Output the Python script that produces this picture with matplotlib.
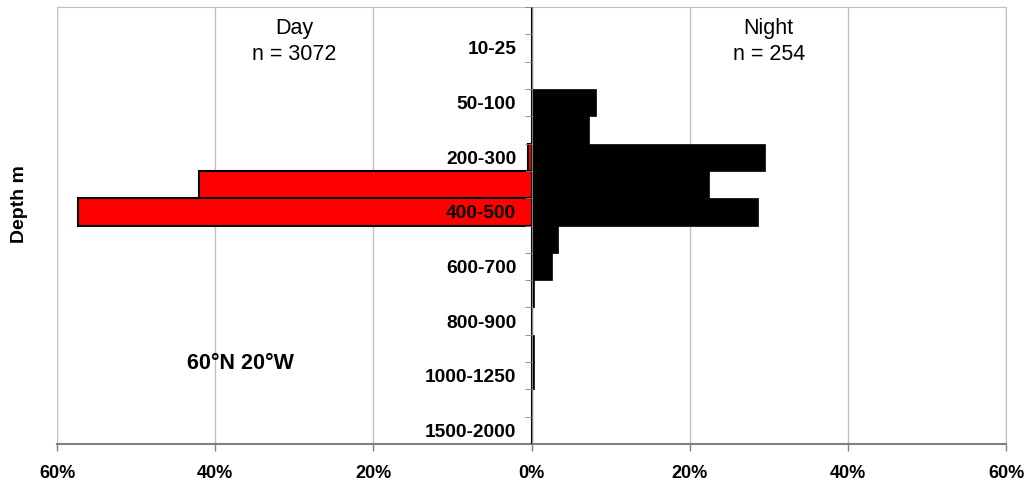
import numpy as np
import matplotlib.pyplot as plt
from matplotlib.ticker import FuncFormatter

plt.rcParams['font.family'] = ['Liberation Sans', 'DejaVu Sans']

# depth bins (m), top to bottom
depth_bins = ['0-10', '10-25', '25-50', '50-100', '100-200', '200-300', '300-400',
              '400-500', '500-600', '600-700', '700-800', '800-900', '900-1000',
              '1000-1250', '1250-1500', '1500-2000']
# percent of catch per bin
day_pct = [0, 0, 0, 0, 0, 0.5, 42.1, 57.4, 0, 0, 0, 0, 0, 0, 0, 0]
night_pct = [0, 0, 0, 8.1, 7.3, 29.5, 22.4, 28.6, 3.3, 2.6, 0.3, 0, 0.3, 0.3, 0, 0]
x_ticks = [-60, -40, -20, 0, 20, 40, 60]

fig = plt.figure(figsize=(10.31, 4.83), dpi=100)
ax = fig.add_axes([0.0553, 0.0807, 0.9205, 0.9048])

y = np.arange(len(depth_bins))
ax.barh(y, [-v for v in day_pct], height=1.0, color='#ff0000', edgecolor='black',
        linewidth=1.5, zorder=3)
ax.barh(y, night_pct, height=1.0, color='black', edgecolor='black', linewidth=0.5, zorder=3)

ax.set_xlim(-60, 60)
ax.set_ylim(len(depth_bins) - 0.5, -0.5)
ax.set_xticks(x_ticks)
ax.xaxis.set_major_formatter(FuncFormatter(lambda v, p: f'{abs(v):.0f}%'))
ax.tick_params(axis='x', length=5, width=1, color='#808080', pad=10, labelsize=13)
for lbl in ax.get_xticklabels():
    lbl.set_fontweight('bold')

ax.grid(axis='x', color='#c0c0c0', linewidth=1, zorder=0)
ax.set_axisbelow(True)

# y axis sits on the zero line, labels drawn over the bars
ax.spines['left'].set_position(('data', 0))
ax.spines['left'].set_color('#808080')
ax.spines['left'].set_zorder(4)
ax.yaxis.set_zorder(5)
for s in ['top', 'right']:
    ax.spines[s].set_color('#c0c0c0')
ax.spines['bottom'].set_color('#808080')
ax.spines['bottom'].set_linewidth(1.5)

ax.set_yticks(y[1::2])
ax.set_yticklabels(depth_bins[1::2], fontsize=13.8, fontweight='bold')
ax.set_yticks(np.arange(len(depth_bins)) - 0.5, minor=True)
ax.tick_params(axis='y', which='major', length=0, pad=11)
ax.tick_params(axis='y', which='minor', length=5, color='#808080')

ax.text(-30, 0.975, 'Day\nn = 3072', transform=ax.get_xaxis_transform(),
        ha='center', va='top', fontsize=15.5, linespacing=1.3)
ax.text(30, 0.975, 'Night\nn = 254', transform=ax.get_xaxis_transform(),
        ha='center', va='top', fontsize=15.5, linespacing=1.3)
ax.text(-36.8, 0.185, '60°N 20°W', transform=ax.get_xaxis_transform(),
        ha='center', va='center', fontsize=15.5, fontweight='bold')

fig.text(0.019, 0.578, 'Depth m', rotation=90, ha='center', va='center',
         fontsize=14, fontweight='bold')

fig.savefig('out.png', dpi=100)
